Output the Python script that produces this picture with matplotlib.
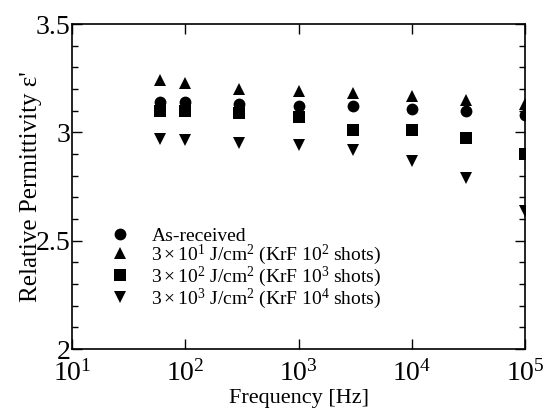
import numpy as np
import matplotlib.pyplot as plt
from matplotlib.ticker import FixedLocator, MultipleLocator, NullLocator

# ─── DATA ────────────────────────────────────────────────────────────────────

freq = [60, 100, 300, 1000, 3000, 10000, 30000, 100000]

as_received = [3.14, 3.14, 3.13, 3.12, 3.12, 3.11, 3.10, 3.08]
krf_1e2     = [3.24, 3.23, 3.20, 3.19, 3.18, 3.17, 3.15, 3.13]
krf_1e3     = [3.10, 3.10, 3.09, 3.07, 3.01, 3.01, 2.975, 2.90]
krf_1e4     = [2.97, 2.965, 2.95, 2.94, 2.92, 2.87, 2.79, 2.635]

labels = [
    "As-received",
    r"$3\times10^{1}$ J/cm$^{2}$ (KrF 10$^{2}$ shots)",
    r"$3\times10^{2}$ J/cm$^{2}$ (KrF 10$^{3}$ shots)",
    r"$3\times10^{3}$ J/cm$^{2}$ (KrF 10$^{4}$ shots)",
]
x_ticks = [1e1, 1e2, 1e3, 1e4, 1e5]
x_ticklabels = [r"10$^1$", r"10$^2$", r"10$^3$", r"10$^4$", r"10$^5$"]
y_ticks = [2, 2.5, 3, 3.5]
y_ticklabels = ["2", "2.5", "3", "3.5"]

# ─── STYLE ───────────────────────────────────────────────────────────────────

plt.rcParams["font.family"] = ["Liberation Serif", "DejaVu Serif"]
plt.rcParams["mathtext.fontset"] = "custom"
plt.rcParams["mathtext.rm"] = "Liberation Serif"
plt.rcParams["mathtext.it"] = "Liberation Serif"

fig = plt.figure(figsize=(5.55, 4.16), dpi=100)
ax = fig.add_axes([0.130, 0.161, 0.816, 0.781])

series = [
    (as_received, "o", 8.5),
    (krf_1e2, "^", 9),
    (krf_1e3, "s", 8),
    (krf_1e4, "v", 9),
]
for (vals, mk, ms), lab in zip(series, labels):
    ax.plot(freq, vals, linestyle="none", marker=mk, markersize=ms,
            color="black", markeredgewidth=0, label=lab)

ax.set_xscale("log")
ax.set_xlim(1e1, 1e5)
ax.set_ylim(2, 3.5)

ax.xaxis.set_major_locator(FixedLocator(x_ticks))
ax.set_xticklabels(x_ticklabels)
ax.xaxis.set_minor_locator(NullLocator())
ax.yaxis.set_major_locator(FixedLocator(y_ticks))
ax.set_yticklabels(y_ticklabels)
ax.yaxis.set_minor_locator(MultipleLocator(0.1))

ax.tick_params(which="both", direction="in", top=True, right=True,
               labelsize=20, width=1)
ax.tick_params(which="major", length=7)
ax.tick_params(which="minor", length=4)
ax.tick_params(axis="x", pad=8)
ax.tick_params(axis="y", pad=1)
for sp in ax.spines.values():
    sp.set_linewidth(1.2)

ax.set_xlabel("Frequency [Hz]", fontsize=16, labelpad=2)
ax.set_ylabel("Relative Permittivity \u03b5'", fontsize=18, labelpad=-4)

ax.legend(loc="upper left", bbox_to_anchor=(0.085, 0.375), frameon=False,
          fontsize=14, handlelength=1.0, handletextpad=1.1,
          labelspacing=-0.12, borderaxespad=0, borderpad=0)

fig.savefig("out.png", dpi=100)
